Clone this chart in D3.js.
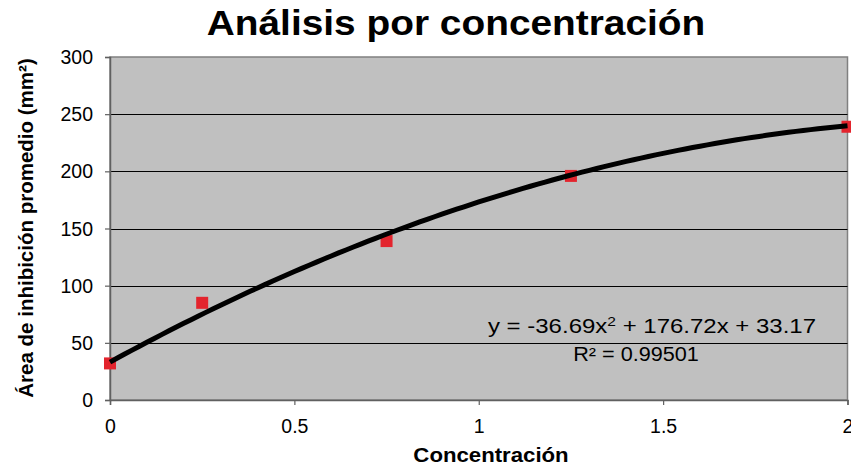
<!DOCTYPE html>
<html>
<head>
<meta charset="utf-8">
<script src="https://cdn.jsdelivr.net/npm/d3@7"></script>
<style>
  body { margin: 0; background: #fff; }
  text { font-family: "Liberation Sans", Arial, sans-serif; }
</style>
</head>
<body>
<div id="chart"></div>
<script>
var svgWidth = 851;
var svgHeight = 468;

var margin = { top: 57, bottom: 68, right: 3, left: 110 };
var width = svgWidth - margin.left - margin.right;
var height = svgHeight - margin.top - margin.bottom;

// Data
var concentrations = [0, 0.25, 0.75, 1.25, 2];
var areas = [32, 85, 139, 196, 239];
var xTicks = [0, 0.5, 1, 1.5, 2];
var yTicks = [0, 50, 100, 150, 200, 250, 300];
// polynomial trendline as printed on the chart: a*x^2 + b*x + c
var trendCoef = [-36.69, 176.72, 33.17];
var rSquared = "0.99501";

var svg = d3.select("#chart")
  .append("svg")
  .attr("width", svgWidth)
  .attr("height", svgHeight);

var chartGroup = svg.append("g")
  .attr("transform", `translate(${margin.left}, ${margin.top})`);

var xScale = d3.scaleLinear().domain([0, 2]).range([0, width - 0.5]);
var yScale = d3.scaleLinear().domain([0, 300]).range([height, 0]);

// plot area
chartGroup.append("rect")
  .attr("x", 0).attr("y", 0)
  .attr("width", width - 0.5).attr("height", height)
  .attr("fill", "#c0c0c0")
  .attr("stroke", "#808080")
  .attr("stroke-width", 1.5);

// gridlines
chartGroup.selectAll(".grid")
  .data(yTicks.filter(d => d > 0 && d < 300))
  .enter()
  .append("line")
  .attr("x1", 0).attr("x2", width - 0.5)
  .attr("y1", d => Math.round(yScale(d)) + 0.5)
  .attr("y2", d => Math.round(yScale(d)) + 0.5)
  .attr("stroke", "#000")
  .attr("stroke-width", 1);

// axes
var leftAxis = d3.axisLeft(yScale).tickValues(yTicks).tickSize(5).tickPadding(12).tickFormat(d3.format("d"));
var bottomAxis = d3.axisBottom(xScale).tickValues(xTicks).tickSize(5).tickPadding(14).tickFormat(d => String(d));

var yg = chartGroup.append("g").call(leftAxis);
var xg = chartGroup.append("g").attr("transform", `translate(0, ${height})`).call(bottomAxis);

[yg, xg].forEach(function(g) {
  g.selectAll("path.domain").attr("stroke", "#606060").attr("stroke-width", 1.5);
  g.selectAll(".tick line").attr("stroke", "#606060").attr("stroke-width", 1.2);
  g.selectAll(".tick text")
    .attr("fill", "#000")
    .style("font-size", "19.5px")
    .style("font-family", "'Liberation Sans', Arial, sans-serif");
});
yg.selectAll(".tick text").attr("dy", "0.34em");

// markers, then trendline on top
var curveData = d3.range(0, 2.0001, 0.02).map(function(x) {
  return [x, trendCoef[0] * x * x + trendCoef[1] * x + trendCoef[2]];
});
chartGroup.selectAll(".marker")
  .data(concentrations)
  .enter()
  .append("rect")
  .attr("class", "marker")
  .attr("x", d => xScale(d) - 6)
  .attr("y", (d, i) => yScale(areas[i]) - 6)
  .attr("width", 12)
  .attr("height", 12)
  .attr("fill", "#e3242d");

chartGroup.append("path")
  .datum(curveData)
  .attr("fill", "none")
  .attr("stroke", "#000")
  .attr("stroke-width", 5)
  .attr("d", d3.line().x(d => xScale(d[0])).y(d => yScale(d[1])));

// text helper: the source text is slightly wider than the font
function label(x, y, size, bold, sx) {
  return svg.append("text")
    .attr("transform", `translate(${x}, ${y}) scale(${sx || 1.11}, 1)`)
    .attr("text-anchor", "middle")
    .style("font-size", size + "px")
    .style("font-weight", bold ? "bold" : "normal");
}

// trendline label
var eq = label(652, 333, 20, false, 1.2);
eq.append("tspan").text("y = " + trendCoef[0] + "x");
eq.append("tspan").attr("dy", -7).style("font-size", "13px").text("2");
eq.append("tspan").attr("dy", 7).text(" + " + trendCoef[1] + "x + " + trendCoef[2]);

label(636, 361, 19.5, false).text("R² = " + rSquared);

// titles
label(456, 35, 35, true).text("Análisis por concentración");
label(491, 462, 20, true).text("Concentración");

svg.append("text")
  .attr("transform", "rotate(-90)")
  .attr("x", -228).attr("y", 33)
  .attr("text-anchor", "middle")
  .style("font-size", "20.5px")
  .style("font-weight", "bold")
  .text("Área de inhibición promedio (mm²)");
</script>
</body>
</html>
